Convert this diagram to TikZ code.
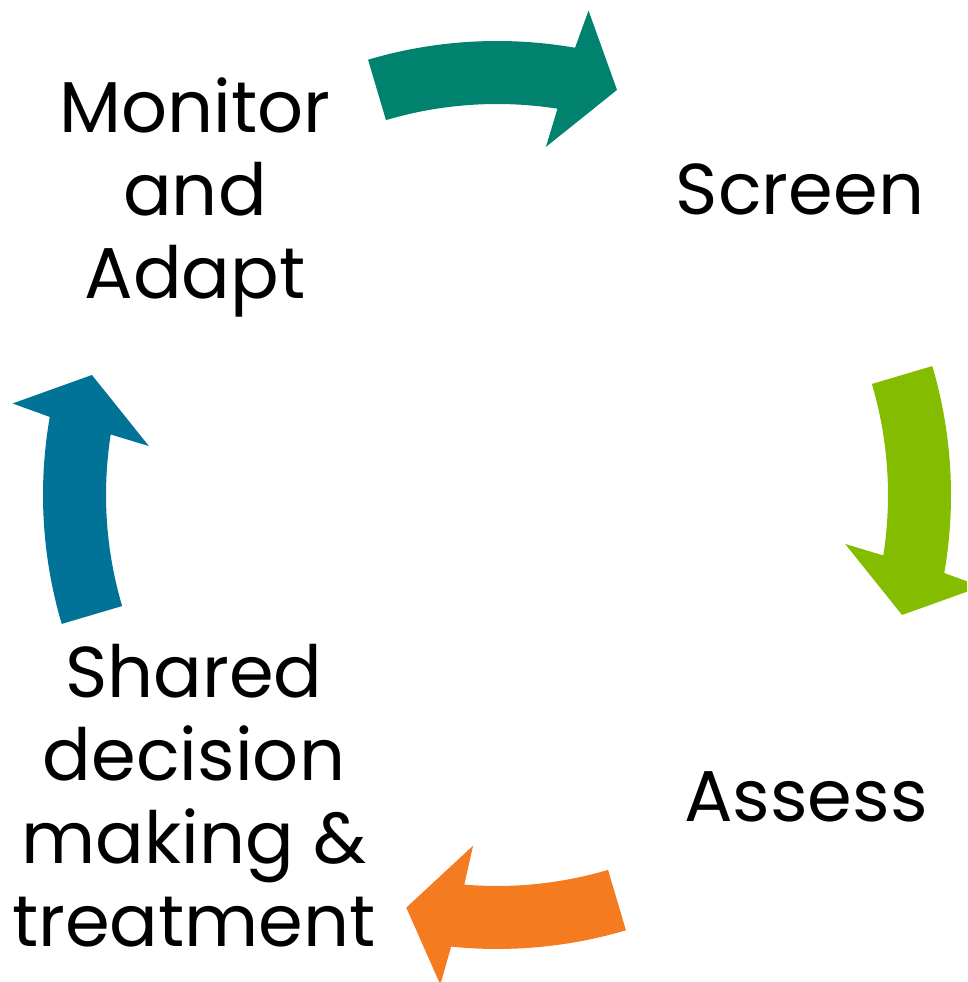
\documentclass[tikz,border=0pt]{standalone}
\usepackage{fontspec}
\setmainfont{Poppins}
\definecolor{screengreen}{HTML}{00826E}
\definecolor{assesslime}{HTML}{84BD00}
\definecolor{shareorange}{HTML}{F47B20}
\definecolor{monitorblue}{HTML}{007396}
\tikzset{
  steplabel/.style={
    font=\fontsize{72}{83}\selectfont,
    align=center,
    inner sep=0pt,
    text=black
  },
  cyclearrow/.style={fill=#1, draw=none}
}
% one curved arrow of the cycle: #1 colour, #2 angle of its middle, #3 shift of the head
\newcommand{\cyclearc}[3]{%
  \fill[cyclearrow=#1] (#2+16.5:454) arc[start angle=#2+16.5, end angle=#2-9.9+#3, radius=454]
    -- (#2-10.7+#3:493) -- (#2-16.5+#3:422.5) -- (#2-8.0+#3:351.5)
    -- (#2-8.9+#3:391) arc[start angle=#2-8.9+#3, end angle=#2+16.5, radius=391] -- cycle;}

\begin{document}
\begin{tikzpicture}[x=1pt, y=1pt]

\useasboundingbox (0,0) rectangle (967,982);
\clip (0,0) rectangle (967,982);

% Steps
\node[steplabel] (monitor) at (195,785) {Monitor\\and\\Adapt};
\node[steplabel, anchor=base] (screen) at (800,767) {Screen};
\node[steplabel, anchor=base] (assess) at (806,160) {Assess};
\node[steplabel] (shared) at (194,186) {Shared\\decision\\making \&\\treatment};

% Cycle arrows, clockwise from the top
\begin{scope}[shift={(497,487)}]
  \cyclearc{screengreen}{90}{0}
  \cyclearc{assesslime}{0}{0}
  \cyclearc{shareorange}{270}{4.1}
  \cyclearc{monitorblue}{180}{0}
\end{scope}

\end{tikzpicture}
\end{document}
